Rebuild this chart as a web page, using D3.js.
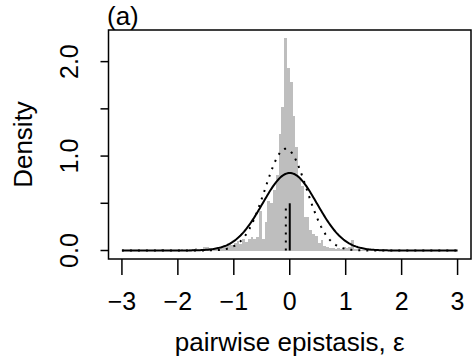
<!DOCTYPE html>
<html>
<head>
<meta charset="utf-8">
<script src="https://cdn.jsdelivr.net/npm/d3@7"></script>
<style>
body { margin: 0; background: #fff; }
text { font-family: "Liberation Sans", Arial, sans-serif; fill: #000; }
</style>
</head>
<body>
<svg width="472" height="359"></svg>
<script>
// histogram bins (width 0.05), left edges and densities
var binStart = [-2.50,-2.45,-2.40,-2.35,-2.30,-2.25,-2.20,-2.15,-2.10,-2.05,
	-2.00,-1.95,-1.90,-1.85,-1.80,-1.75,-1.70,-1.65,-1.60,-1.55,
	-1.50,-1.45,-1.40,-1.35,-1.30,-1.25,-1.20,-1.15,-1.10,-1.05,
	-1.00,-0.95,-0.90,-0.85,-0.80,-0.75,-0.70,-0.65,-0.60,-0.55,
	-0.50,-0.45,-0.40,-0.35,-0.30,-0.25,-0.20,-0.15,-0.10,-0.05,
	0.00,0.05,0.10,0.15,0.20,0.25,0.30,0.35,0.40,0.45,
	0.50,0.55,0.60,0.65,0.70,0.75,0.80,0.85,0.90,0.95,
	1.00,1.05,1.10,1.15,1.20,1.25,1.30,1.35,1.40]
var binDensity = [0.01,0,0.01,0,0.02,0.01,0,0.01,0.01,0,
	0.01,0.02,0.01,0.01,0.02,0.02,0.03,0.01,0.02,0.04,
	0.04,0.03,0.02,0.03,0.02,0.04,0.06,0.05,0.07,0.06,
	0.08,0.10,0.07,0.12,0.09,0.12,0.14,0.12,0.14,0.42,
	0.12,0.30,0.52,0.50,0.64,0.80,1.23,1.52,2.25,1.93,
	1.78,1.42,1.10,0.78,0.68,0.36,0.36,0.22,0.17,0.15,
	0.08,0.11,0.05,0.04,0.03,0.03,0.02,0.03,0.02,0.04,
	0.03,0.04,0.11,0.02,0.02,0.01,0.01,0.01,0.01]
var binWidth = 0.05

// fitted normal curves: solid and dotted
var solidMean = 0, solidSd = 0.486
var dotMean = -0.07, dotSd = 0.37
var markHeight = 0.5

var xTicks = [-3,-2,-1,0,1,2,3]
var yTicks = [0,0.5,1,1.5,2]
var yLabels = {0:"0.0", 1:"1.0", 2:"2.0"}

var svg = d3.select("svg")
var plotL = 108.5, plotR = 471, plotT = 30, plotB = 259

var x = d3.scaleLinear().domain([-3.24,3.24]).range([plotL,plotR])
var y = d3.scaleLinear().domain([-0.09,2.335]).range([plotB,plotT])

var hist = binStart.map((s,i) => ({x0: s, x1: s + binWidth, d: binDensity[i]}))

svg.append("g")
	.selectAll("rect")
	.data(hist)
	.enter()
	.append("rect")
	.attr("x", d => x(d.x0))
	.attr("width", d => x(d.x1) - x(d.x0))
	.attr("y", d => y(d.d))
	.attr("height", d => y(0) - y(d.d))
	.style("fill","#bebebe")
	.style("shape-rendering","crispEdges")

function dnorm(v, m, s){
	return Math.exp(-0.5*((v-m)/s)*((v-m)/s)) / (s*Math.sqrt(2*Math.PI))
}
var grid = d3.range(-3, 3.0001, 0.02)
var line = d3.line().x(d => x(d[0])).y(d => y(d[1]))

svg.append("path")
	.attr("d", line(grid.map(v => [v, dnorm(v, dotMean, dotSd)])))
	.style("fill","none").style("stroke","#000")
	.style("stroke-width",2).style("stroke-dasharray","2,6")

svg.append("path")
	.attr("d", line(grid.map(v => [v, dnorm(v, solidMean, solidSd)])))
	.style("fill","none").style("stroke","#000").style("stroke-width",2)

svg.append("line")
	.attr("x1", x(dotMean)).attr("x2", x(dotMean))
	.attr("y1", y(0)).attr("y2", y(markHeight))
	.style("stroke","#000").style("stroke-width",2).style("stroke-dasharray","2,6")
svg.append("line")
	.attr("x1", x(solidMean)).attr("x2", x(solidMean))
	.attr("y1", y(0)).attr("y2", y(markHeight))
	.style("stroke","#000").style("stroke-width",2)

// box
svg.append("rect")
	.attr("x",plotL).attr("y",plotT)
	.attr("width",plotR-plotL).attr("height",plotB-plotT)
	.style("fill","none").style("stroke","#000").style("stroke-width",1.5)

// x axis ticks and labels
var xg = svg.append("g")
xg.selectAll("line").data(xTicks).enter().append("line")
	.attr("x1", d => x(d)).attr("x2", d => x(d))
	.attr("y1", plotB).attr("y2", plotB + 16)
	.style("stroke","#000").style("stroke-width",1.5)
xg.selectAll("text").data(xTicks).enter().append("text")
	.attr("x", d => x(d)).attr("y", 310)
	.style("text-anchor","middle").style("font-size","25px")
	.text(d => d < 0 ? "\u2212" + Math.abs(d) : d)

// y axis ticks and labels
var yg = svg.append("g")
yg.selectAll("line").data(yTicks).enter().append("line")
	.attr("x1", plotL - 8).attr("x2", plotL)
	.attr("y1", d => y(d)).attr("y2", d => y(d))
	.style("stroke","#000").style("stroke-width",1.5)
yg.selectAll("text").data(yTicks.filter(d => yLabels[d])).enter().append("text")
	.attr("transform", d => "translate(78," + y(d) + ") rotate(-90)")
	.style("text-anchor","middle").style("font-size","25px")
	.text(d => yLabels[d])

svg.append("text")
	.attr("transform","translate(32," + ((plotT+plotB)/2) + ") rotate(-90)")
	.style("text-anchor","middle").style("font-size","26px")
	.text("Density")

svg.append("text")
	.attr("x", x(0)).attr("y", 351)
	.style("text-anchor","middle").style("font-size","26px")
	.text("pairwise epistasis, \u03b5")

svg.append("text")
	.attr("x", 107).attr("y", 25)
	.style("font-size","26px")
	.text("(a)")
</script>
</body>
</html>
